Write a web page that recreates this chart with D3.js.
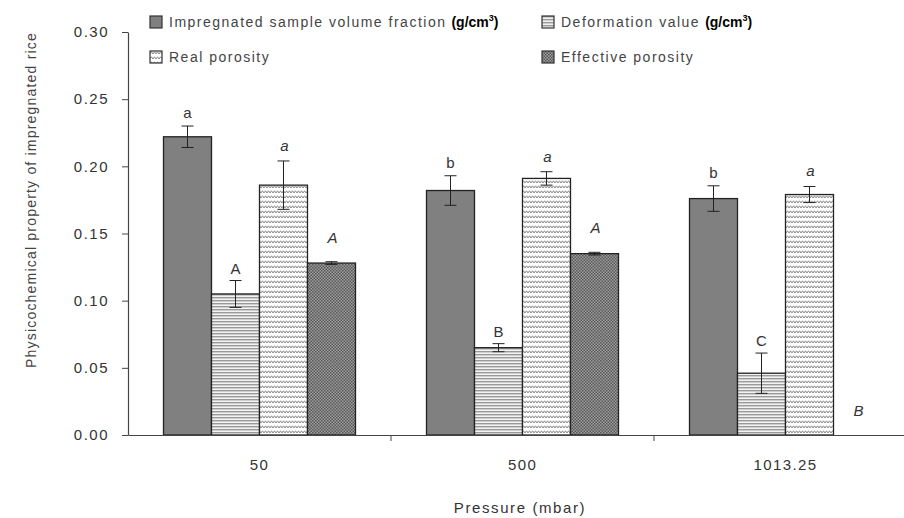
<!DOCTYPE html>
<html>
<head>
<meta charset="utf-8">
<script src="https://cdn.jsdelivr.net/npm/d3@7"></script>
<style>
  body { margin: 0; background: #fff; }
  svg { display: block; font-family: "Liberation Sans", Arial, sans-serif; }
</style>
</head>
<body>
<svg id="chart"></svg>
<script>
const pressures = ['50', '500', '1013.25']
const seriesNames = ['Impregnated sample volume fraction', 'Deformation value', 'Real porosity', 'Effective porosity']

const ivf = [0.222, 0.182, 0.176]
const ivfErr = [0.008, 0.011, 0.0095]
const deform = [0.105, 0.065, 0.046]
const deformErr = [0.010, 0.003, 0.015]
const realPor = [0.186, 0.191, 0.179]
const realErr = [0.018, 0.005, 0.006]
const effPor = [0.128, 0.135, 0]
const effErr = [0.001, 0.001, 0]

const ivfLetters = ['a', 'b', 'b']
const deformLetters = ['A', 'B', 'C']
const realLetters = ['a', 'a', 'a']
const effLetters = ['A', 'A', 'B']

const yTicks = [0, 0.05, 0.10, 0.15, 0.20, 0.25, 0.30]

const width = 904
const height = 518

const svg = d3.select('#chart').attr('width', width).attr('height', height).attr('viewBox', [0, 0, width, height])

// patterns
const defs = svg.append('defs')
const pHl = defs.append('pattern').attr('id', 'hl').attr('patternUnits', 'userSpaceOnUse').attr('width', 4).attr('height', 3)
pHl.append('rect').attr('width', 4).attr('height', 3).attr('fill', '#f2f2f2')
pHl.append('rect').attr('y', 0).attr('width', 4).attr('height', 1.4).attr('fill', '#999')

const pWave = defs.append('pattern').attr('id', 'wave').attr('patternUnits', 'userSpaceOnUse').attr('width', 6).attr('height', 5)
pWave.append('rect').attr('width', 6).attr('height', 5).attr('fill', '#fff')
pWave.append('path').attr('d', 'M0,3 L1.5,0.8 L3,3 L4.5,0.8 L6,3').attr('fill', 'none').attr('stroke', '#7a7a7a').attr('stroke-width', 0.9)

const pChk = defs.append('pattern').attr('id', 'chk').attr('patternUnits', 'userSpaceOnUse').attr('width', 3).attr('height', 3)
pChk.append('rect').attr('width', 3).attr('height', 3).attr('fill', '#a0a0a0')
pChk.append('rect').attr('width', 1.5).attr('height', 1.5).attr('fill', '#555')
pChk.append('rect').attr('x', 1.5).attr('y', 1.5).attr('width', 1.5).attr('height', 1.5).attr('fill', '#555')

const fills = ['#808080', 'url(#hl)', 'url(#wave)', 'url(#chk)']

const series = [
  { name: seriesNames[0], values: ivf, errs: ivfErr, letters: ivfLetters, italic: false, off: 8 },
  { name: seriesNames[1], values: deform, errs: deformErr, letters: deformLetters, italic: false, off: 7 },
  { name: seriesNames[2], values: realPor, errs: realErr, letters: realLetters, italic: true, off: 10 },
  { name: seriesNames[3], values: effPor, errs: effErr, letters: effLetters, italic: true, off: 19 }
]

const x0 = d3.scaleBand().domain(pressures).range([128, 917]).paddingInner(0.27).paddingOuter(0.135)
const x1 = d3.scaleBand().domain(d3.range(series.length)).range([0, x0.bandwidth()])
const y = d3.scaleLinear().domain([0, 0.3]).range([435, 32])

// bars
const barG = svg.append('g')
series.forEach((s, si) => {
  const g = barG.append('g')
  const items = pressures.map((p, i) => ({ p, v: s.values[i], e: s.errs[i], l: s.letters[i] }))
  g.selectAll('rect')
    .data(items.filter((d) => d.v > 0))
    .join('rect')
    .attr('x', (d) => x0(d.p) + x1(si))
    .attr('y', (d) => y(d.v))
    .attr('width', x1.bandwidth())
    .attr('height', (d) => y(0) - y(d.v))
    .attr('fill', fills[si])
    .attr('stroke', '#222')
    .attr('stroke-width', 1.3)

  const eb = g.selectAll('g.err').data(items.filter((d) => d.e > 0)).join('g').attr('class', 'err')
  const cx = (d) => x0(d.p) + x1(si) + x1.bandwidth() / 2
  eb.append('line')
    .attr('x1', cx).attr('x2', cx)
    .attr('y1', (d) => y(d.v + d.e)).attr('y2', (d) => y(d.v - d.e))
    .attr('stroke', '#222').attr('stroke-width', 1)
  eb.append('line')
    .attr('x1', (d) => cx(d) - 6).attr('x2', (d) => cx(d) + 6)
    .attr('y1', (d) => y(d.v + d.e)).attr('y2', (d) => y(d.v + d.e))
    .attr('stroke', '#222').attr('stroke-width', 1)
  eb.append('line')
    .attr('x1', (d) => cx(d) - 6).attr('x2', (d) => cx(d) + 6)
    .attr('y1', (d) => y(d.v - d.e)).attr('y2', (d) => y(d.v - d.e))
    .attr('stroke', '#222').attr('stroke-width', 1)

  g.selectAll('text.lbl')
    .data(items)
    .join('text')
    .attr('class', 'lbl')
    .attr('x', (d) => cx(d) + (s.italic ? 1 : 0))
    .attr('y', (d) => y(d.v + d.e) - s.off)
    .attr('text-anchor', 'middle')
    .attr('font-size', 15)
    .attr('font-style', s.italic ? 'italic' : 'normal')
    .attr('fill', '#333')
    .text((d) => d.l)
})

// axes
const xAxis = svg.append('g')
  .attr('transform', `translate(0,${y(0)})`)
  .call(d3.axisBottom(x0).tickSize(0).tickSizeOuter(0).tickPadding(24))
xAxis.select('.domain').attr('stroke', '#444').attr('stroke-width', 1.2)
xAxis.selectAll('text').attr('font-size', 15).attr('letter-spacing', 1.4).attr('fill', '#333').attr('font-family', 'Liberation Sans, Arial, sans-serif')
// boundary ticks between categories
xAxis.selectAll('line.bnd')
  .data(pressures.slice(1))
  .join('line')
  .attr('class', 'bnd')
  .attr('x1', (d) => x0(d) - x0.step() * x0.paddingInner() / 2)
  .attr('x2', (d) => x0(d) - x0.step() * x0.paddingInner() / 2)
  .attr('y1', 0).attr('y2', 6)
  .attr('stroke', '#444')

const yAxis = svg.append('g')
  .attr('transform', 'translate(128,0)')
  .call(d3.axisLeft(y).tickValues(yTicks).tickFormat(d3.format('.2f')).tickSize(6).tickSizeOuter(0).tickPadding(13))
yAxis.select('.domain').attr('stroke', '#444').attr('stroke-width', 1.2)
yAxis.selectAll('line').attr('stroke', '#444')
yAxis.selectAll('text').attr('font-size', 15).attr('letter-spacing', 1.5).attr('fill', '#333').attr('font-family', 'Liberation Sans, Arial, sans-serif')

svg.append('text')
  .attr('x', 520).attr('y', 513)
  .attr('text-anchor', 'middle')
  .attr('font-size', 15).attr('letter-spacing', 1.6).attr('fill', '#333')
  .text('Pressure (mbar)')

svg.append('text')
  .attr('transform', 'translate(36,200) rotate(-90)')
  .attr('text-anchor', 'middle')
  .attr('font-size', 14).attr('letter-spacing', 1.2).attr('fill', '#444')
  .text('Physicochemical property of impregnated rice')

// legend
const legendPos = [[150, 16], [542, 16], [150, 51], [542, 51]]
const legend = svg.append('g')
series.forEach((s, i) => {
  const [lx, ly] = legendPos[i]
  const g = legend.append('g').attr('transform', `translate(${lx},${ly})`)
  g.append('rect').attr('width', 12).attr('height', 12).attr('fill', fills[i]).attr('stroke', '#333').attr('stroke-width', 1.2)
  const t = g.append('text').attr('x', 19).attr('y', 11).attr('font-size', 14).attr('fill', '#444')
  t.append('tspan').attr('letter-spacing', 1.5).text(s.name)
  if (i < 2) {
    t.append('tspan').attr('dx', 5).attr('font-weight', 'bold').attr('fill', '#000').text('(g/cm')
    t.append('tspan').attr('font-weight', 'bold').attr('fill', '#000').attr('font-size', 9).attr('dy', -6).text('3')
    t.append('tspan').attr('font-weight', 'bold').attr('fill', '#000').attr('dy', 6).text(')')
  }
})
</script>
</body>
</html>
